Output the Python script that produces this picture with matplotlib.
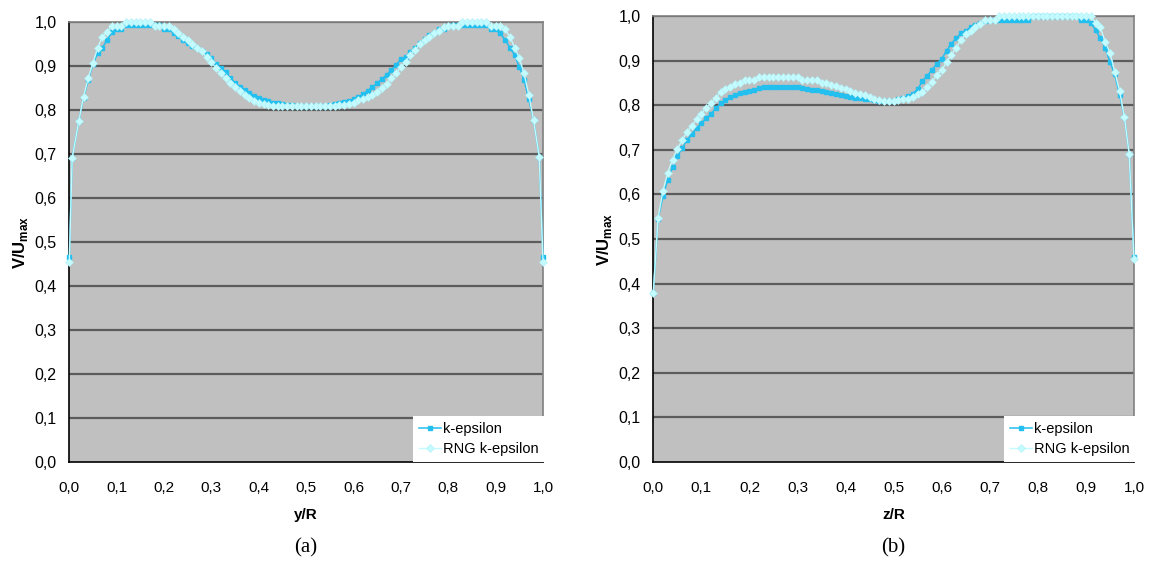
import matplotlib
matplotlib.use("Agg")
import matplotlib.pyplot as plt
from matplotlib.ticker import FixedLocator, FixedFormatter

plt.rcParams['font.family'] = ['Liberation Sans', 'DejaVu Sans']
plt.rcParams['mathtext.fontset'] = 'custom'
plt.rcParams['mathtext.rm'] = 'Liberation Sans'
plt.rcParams['mathtext.bf'] = 'Liberation Sans:bold'

# ---------------- data: panel (a) ----------------
ya_x = [0.0, 0.006, 0.02, 0.03, 0.04, 0.05, 0.06, 0.07, 0.08, 0.09,
        0.10, 0.11, 0.12, 0.13, 0.14, 0.15, 0.16, 0.17, 0.18, 0.19,
        0.20, 0.21, 0.22, 0.23, 0.24, 0.25, 0.26, 0.27, 0.28, 0.29,
        0.30, 0.31, 0.32, 0.33, 0.34, 0.35, 0.36, 0.37, 0.38, 0.39,
        0.40, 0.41, 0.42, 0.43, 0.44, 0.45, 0.46, 0.47, 0.48, 0.49,
        0.50, 0.51, 0.52, 0.53, 0.54, 0.55, 0.56, 0.57, 0.58, 0.59,
        0.60, 0.61, 0.62, 0.63, 0.64, 0.65, 0.66, 0.67, 0.68, 0.69,
        0.70, 0.71, 0.72, 0.73, 0.74, 0.75, 0.76, 0.77, 0.78, 0.79,
        0.80, 0.81, 0.82, 0.83, 0.84, 0.85, 0.86, 0.87, 0.88, 0.89,
        0.90, 0.91, 0.92, 0.93, 0.94, 0.95, 0.96, 0.97, 0.98, 0.992, 1.0]
ya_keps = [0.465, 0.690, 0.775, 0.828, 0.868, 0.905, 0.929, 0.942, 0.959, 0.977,
           0.983, 0.983, 0.994, 0.994, 0.994, 0.994, 0.994, 0.994, 0.994, 0.994,
           0.983, 0.983, 0.975, 0.968, 0.960, 0.953, 0.946, 0.940, 0.934, 0.928,
           0.918, 0.905, 0.895, 0.886, 0.872, 0.862, 0.853, 0.845, 0.838, 0.832,
           0.828, 0.823, 0.820, 0.817, 0.815, 0.813, 0.812, 0.811, 0.810, 0.810,
           0.810, 0.810, 0.810, 0.810, 0.810, 0.811, 0.813, 0.816, 0.819, 0.821,
           0.824, 0.830, 0.836, 0.844, 0.852, 0.861, 0.870, 0.880, 0.891, 0.903,
           0.915, 0.920, 0.932, 0.942, 0.952, 0.962, 0.970, 0.976, 0.983, 0.983,
           0.990, 0.994, 0.994, 0.994, 0.994, 0.994, 0.994, 0.994, 0.994, 0.985,
           0.983, 0.974, 0.959, 0.942, 0.925, 0.898, 0.869, 0.825, 0.777, 0.694, 0.465]
ya_rng = [0.455, 0.690, 0.775, 0.830, 0.873, 0.907, 0.942, 0.967, 0.977, 0.992,
          0.992, 0.992, 1.000, 1.000, 1.000, 1.000, 1.000, 1.000, 0.992, 0.992,
          0.992, 0.992, 0.983, 0.974, 0.966, 0.958, 0.950, 0.942, 0.933, 0.920,
          0.908, 0.896, 0.884, 0.872, 0.862, 0.852, 0.843, 0.834, 0.827, 0.821,
          0.816, 0.813, 0.811, 0.810, 0.810, 0.810, 0.810, 0.810, 0.810, 0.810,
          0.810, 0.810, 0.810, 0.810, 0.810, 0.810, 0.810, 0.811, 0.812, 0.813,
          0.817, 0.822, 0.825, 0.829, 0.835, 0.842, 0.851, 0.860, 0.872, 0.883,
          0.898, 0.909, 0.926, 0.937, 0.949, 0.958, 0.967, 0.974, 0.980, 0.988,
          0.992, 0.992, 0.992, 1.000, 1.000, 1.000, 1.000, 1.000, 1.000, 0.992,
          0.992, 0.992, 0.983, 0.967, 0.942, 0.918, 0.883, 0.835, 0.777, 0.694, 0.455]

# ---------------- data: panel (b) ----------------
zb_x = [0.0, 0.01, 0.02, 0.03, 0.04, 0.05, 0.06, 0.07, 0.08, 0.09,
        0.10, 0.11, 0.12, 0.13, 0.14, 0.15, 0.16, 0.17, 0.18, 0.19,
        0.20, 0.21, 0.22, 0.23, 0.24, 0.25, 0.26, 0.27, 0.28, 0.29,
        0.30, 0.31, 0.32, 0.33, 0.34, 0.35, 0.36, 0.37, 0.38, 0.39,
        0.40, 0.41, 0.42, 0.43, 0.44, 0.45, 0.46, 0.47, 0.48, 0.49,
        0.50, 0.51, 0.52, 0.53, 0.54, 0.55, 0.56, 0.57, 0.58, 0.59,
        0.60, 0.61, 0.62, 0.63, 0.64, 0.65, 0.66, 0.67, 0.68, 0.69,
        0.70, 0.71, 0.72, 0.73, 0.74, 0.75, 0.76, 0.77, 0.78, 0.79,
        0.80, 0.81, 0.82, 0.83, 0.84, 0.85, 0.86, 0.87, 0.88, 0.89,
        0.90, 0.91, 0.92, 0.93, 0.94, 0.95, 0.96, 0.97, 0.98, 0.99, 1.0]
zb_keps = [0.380, 0.545, 0.596, 0.633, 0.661, 0.686, 0.703, 0.722, 0.735, 0.748,
           0.759, 0.771, 0.781, 0.793, 0.804, 0.812, 0.818, 0.823, 0.827, 0.830,
           0.832, 0.835, 0.838, 0.840, 0.840, 0.841, 0.841, 0.841, 0.841, 0.841,
           0.840, 0.838, 0.837, 0.835, 0.834, 0.832, 0.830, 0.828, 0.825, 0.823,
           0.821, 0.818, 0.817, 0.816, 0.815, 0.814, 0.812, 0.810, 0.809, 0.809,
           0.810, 0.813, 0.816, 0.820, 0.826, 0.836, 0.854, 0.866, 0.880, 0.893,
           0.904, 0.922, 0.938, 0.950, 0.961, 0.967, 0.975, 0.979, 0.985, 0.989,
           0.991, 0.991, 0.991, 0.991, 0.991, 0.991, 0.991, 0.991, 0.991, 0.999,
           0.999, 0.999, 0.999, 0.999, 0.999, 0.999, 0.999, 0.999, 0.999, 0.991,
           0.991, 0.985, 0.968, 0.950, 0.928, 0.897, 0.869, 0.823, 0.774, 0.690, 0.460]
zb_rng = [0.380, 0.548, 0.608, 0.648, 0.678, 0.702, 0.721, 0.740, 0.754, 0.768,
          0.781, 0.794, 0.804, 0.816, 0.830, 0.837, 0.841, 0.848, 0.849, 0.857,
          0.857, 0.857, 0.864, 0.864, 0.864, 0.864, 0.864, 0.864, 0.864, 0.864,
          0.864, 0.857, 0.857, 0.857, 0.857, 0.849, 0.849, 0.845, 0.842, 0.838,
          0.836, 0.832, 0.828, 0.825, 0.822, 0.819, 0.815, 0.812, 0.810, 0.810,
          0.810, 0.811, 0.813, 0.815, 0.819, 0.824, 0.830, 0.840, 0.853, 0.868,
          0.879, 0.896, 0.913, 0.929, 0.946, 0.959, 0.967, 0.976, 0.983, 0.990,
          0.991, 0.991, 0.999, 0.999, 0.999, 0.999, 0.999, 0.999, 0.999, 0.999,
          0.999, 0.999, 0.999, 0.999, 0.999, 0.999, 0.999, 0.999, 0.999, 0.999,
          0.999, 0.999, 0.985, 0.975, 0.942, 0.918, 0.875, 0.832, 0.774, 0.690, 0.455]

ticks = [0.0, 0.1, 0.2, 0.3, 0.4, 0.5, 0.6, 0.7, 0.8, 0.9, 1.0]
tick_labels = ["0,0", "0,1", "0,2", "0,3", "0,4", "0,5", "0,6", "0,7", "0,8", "0,9", "1,0"]
series_names = ["k-epsilon", "RNG k-epsilon"]

W, H = 1153, 562
fig = plt.figure(figsize=(W / 100, H / 100), dpi=100)
fig.patch.set_facecolor("white")

KCOL = "#22BFEF"
RCOL = "#C4FBFF"

panels = [
    dict(rect=(69.3, 22, 543, 462), x=ya_x, k=ya_keps, r=ya_rng, xl="y/R", cap="(a)"),
    dict(rect=(653.3, 16, 1134, 462), x=zb_x, k=zb_keps, r=zb_rng, xl="z/R", cap="(b)"),
]

for p in panels:
    x0, yt, x1, yb = p["rect"]
    ax = fig.add_axes([x0 / W, 1 - yb / H, (x1 - x0) / W, (yb - yt) / H])
    ax.set_facecolor("#C0C0C0")
    ax.set_xlim(0, 1)
    ax.set_ylim(0, 1)
    for t in ticks[1:]:
        ax.axhline(t, color="#5c5c5c", lw=1.6, zorder=1)
    ax.plot(p["x"], p["k"], color=KCOL, lw=1.1, marker="s", ms=2.6,
            mfc=KCOL, mec=KCOL, label=series_names[0], zorder=3, clip_on=False)
    ax.plot(p["x"], p["r"], color=RCOL, lw=1.0, marker="D", ms=3.6,
            mfc=RCOL, mec="#B0F0F8", mew=0.4, label=series_names[1], zorder=4, clip_on=False)
    ax.xaxis.set_major_locator(FixedLocator(ticks))
    ax.xaxis.set_major_formatter(FixedFormatter(tick_labels))
    ax.yaxis.set_major_locator(FixedLocator(ticks))
    ax.yaxis.set_major_formatter(FixedFormatter(tick_labels))
    ax.tick_params(axis="both", length=0, colors="black")
    ax.tick_params(axis="x", pad=14, labelsize=11)
    ax.tick_params(axis="y", pad=9, labelsize=11.5)
    for s in ("left", "bottom"):
        ax.spines[s].set_color("black")
        ax.spines[s].set_linewidth(1.2)
    for s in ("top", "right"):
        ax.spines[s].set_color("#808080")
        ax.spines[s].set_linewidth(1.2)
    ax.set_xlabel(p["xl"], fontsize=11, fontweight="bold", labelpad=9)
    ax.set_ylabel(r"$\mathbf{V/U}_{\mathbf{max}}$", fontsize=12, labelpad=3)
    leg = ax.legend(loc="lower right", bbox_to_anchor=(1.003, 0.0), borderaxespad=0,
                    frameon=True, fancybox=False, facecolor="white", edgecolor="white",
                    framealpha=1, fontsize=10.5, handlelength=1.5, handletextpad=0.15,
                    labelspacing=0.45, borderpad=0.4)
    leg.set_zorder(10)
    leg.get_frame().set_linewidth(0)
    cx = (x0 + x1) / 2 / W
    fig.text(cx, 1 - 548 / H, p["cap"], ha="center", va="center",
             fontsize=15, family=["Liberation Serif", "DejaVu Serif"])

fig.savefig("out.png", dpi=100)
